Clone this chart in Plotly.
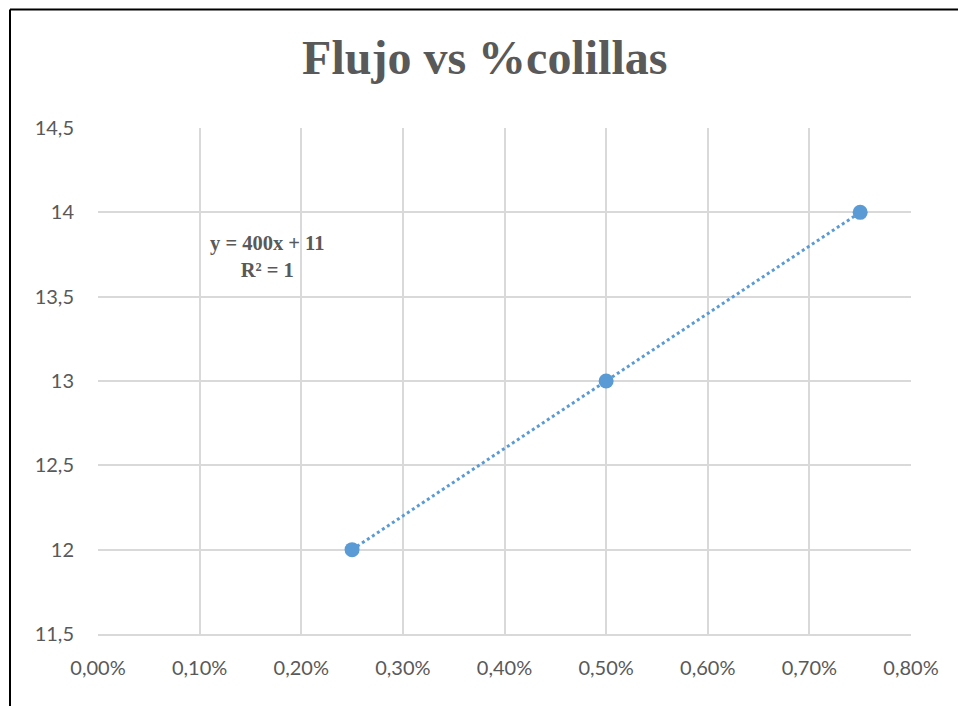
import numpy as np
import plotly.graph_objects as go

# Data: flow vs cigarette-butt percentage (fraction)
colillas = [0.0025, 0.005, 0.0075]
flujo = [12, 13, 14]

x_ticks = [0, 0.001, 0.002, 0.003, 0.004, 0.005, 0.006, 0.007, 0.008]
y_ticks = [11.5, 12, 12.5, 13, 13.5, 14, 14.5]

# Linear trendline
slope, intercept = np.polyfit(colillas, flujo, 1)
pred = np.polyval([slope, intercept], colillas)
ss_res = np.sum((np.array(flujo) - pred) ** 2)
ss_tot = np.sum((np.array(flujo) - np.mean(flujo)) ** 2)
r2 = 1 - ss_res / ss_tot
trend_x = [min(colillas), max(colillas)]
trend_y = [slope * v + intercept for v in trend_x]

BLUE = "#5b9bd5"
GREY = "#595959"
GRID = "#d9d9d9"

fig = go.Figure()
fig.add_trace(go.Scatter(
    x=trend_x, y=trend_y, mode="lines",
    line=dict(color=BLUE, width=3, dash="dot"),
    hoverinfo="skip", showlegend=False,
))
fig.add_trace(go.Scatter(
    x=colillas, y=flujo, mode="markers",
    marker=dict(color=BLUE, size=15),
    showlegend=False,
))

L, R, T, B = 98, 47, 128, 72
W, H = 958, 706
pw, ph = W - L - R, H - T - B

fig.update_layout(
    width=W, height=H,
    margin=dict(l=L, r=R, t=T, b=B),
    paper_bgcolor="white", plot_bgcolor="white",
    separators=",.",
    title=dict(
        text="<b>Flujo vs %colillas</b>",
        font=dict(family="Liberation Serif", size=48, color=GREY),
        x=0.506, xanchor="center", xref="container",
        y=1 - 57 / H, yanchor="middle", yref="container",
    ),
    xaxis=dict(
        range=[0, 0.008], tickvals=x_ticks, tickformat=".2%",
        showgrid=True, gridcolor=GRID, gridwidth=1.5,
        showline=True, linecolor=GRID, linewidth=1.5, mirror=False,
        zeroline=False, ticks="outside", ticklen=15, tickcolor="rgba(0,0,0,0)",
        tickfont=dict(family="Lato", size=20, color=GREY),
    ),
    yaxis=dict(
        range=[11.5, 14.5], tickvals=y_ticks,
        showgrid=True, gridcolor=GRID, gridwidth=1.5,
        showline=False, zeroline=False,
        ticks="outside", ticklen=19, tickcolor="rgba(0,0,0,0)",
        tickfont=dict(family="Lato", size=20, color=GREY),
    ),
    annotations=[dict(
        text=f"<b>y = {slope:.0f}x + {intercept:.0f}</b><br><b>R² = {r2:.0f}</b>",
        x=0.00166, y=13.74, xref="x", yref="y",
        xanchor="center", yanchor="middle", showarrow=False, align="center",
        font=dict(family="Liberation Serif", size=20.5, color=GREY),
    )],
    shapes=[
        # outer chart frame (left and top edges visible)
        dict(type="line", xref="paper", yref="paper",
             x0=(10 - L) / pw, x1=(10 - L) / pw,
             y0=1 + (T - 9.5) / ph, y1=-(B + 10) / ph,
             line=dict(color="black", width=2)),
        dict(type="line", xref="paper", yref="paper",
             x0=(10 - L) / pw, x1=(W + 10 - L) / pw,
             y0=1 + (T - 9.5) / ph, y1=1 + (T - 9.5) / ph,
             line=dict(color="black", width=2)),
    ],
)

fig.write_html("out.html")
